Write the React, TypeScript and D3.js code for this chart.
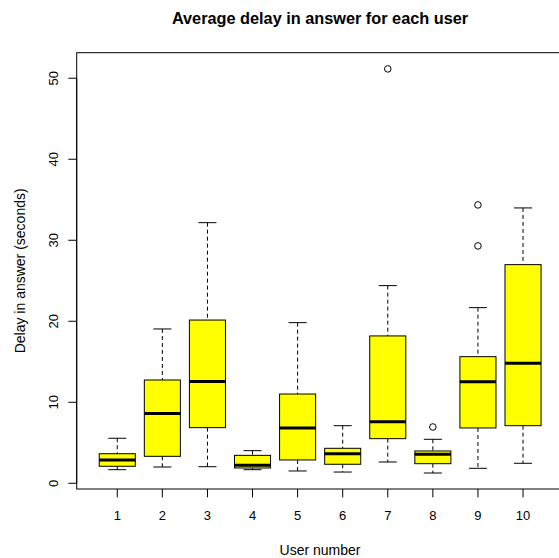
import * as d3 from 'd3';

// users on the x axis
const users = [1, 2, 3, 4, 5, 6, 7, 8, 9, 10];

// five-number summaries (seconds)
const whiskerLow = [1.68, 2.01, 2.05, 1.68, 1.52, 1.39, 2.63, 1.27, 1.85, 2.47];
const q1 = [2.1, 3.33, 6.87, 1.89, 2.88, 2.35, 5.51, 2.42, 6.83, 7.11];
const medians = [2.88, 8.6, 12.55, 2.22, 6.83, 3.65, 7.6, 3.58, 12.54, 14.81];
const q3 = [3.65, 12.75, 20.15, 3.45, 11.02, 4.32, 18.19, 3.99, 15.63, 26.99];
const whiskerHigh = [5.56, 19.05, 32.17, 4.03, 19.83, 7.11, 24.4, 5.43, 21.68, 33.99];

// outlying points: [user, value]
const outliers: [number, number][] = [
  [7, 51.15],
  [8, 6.95],
  [9, 34.36],
  [9, 29.3],
];

const yTicks = [0, 10, 20, 30, 40, 50];

export default function App() {
  const width = 559;
  const height = 558;

  // R style plot region: xlim 0.5..10.5 widened by 4 %
  const x = d3.scaleLinear().domain([0.1, 10.9]).range([76.7, 563.6]);
  const y = d3.scaleLinear().domain([-0.704, 53.15]).range([489, 52.7]);

  const boxW = (x(1) - x(0)) * 0.8;
  const capW = boxW / 2;
  const font = 'Liberation Sans, Arial, Helvetica, sans-serif';

  return (
    <svg
      width={width}
      height={height}
      style={{ position: 'absolute', left: 0, top: 0, background: '#fff' }}
      fontFamily={font}
    >
      <text x={320} y={24} textAnchor="middle" fontSize={16.3} fontWeight="bold">
        Average delay in answer for each user
      </text>

      {/* plot frame */}
      <rect
        x={x(0.1)}
        y={y(53.15)}
        width={x(10.9) - x(0.1)}
        height={y(-0.704) - y(53.15)}
        fill="none"
        stroke="#000"
      />

      {/* boxes */}
      {users.map((u, i) => {
        const cx = x(u);
        return (
          <g key={u}>
            <line x1={cx} x2={cx} y1={y(whiskerHigh[i])} y2={y(q3[i])} stroke="#000" strokeDasharray="4,3" />
            <line x1={cx} x2={cx} y1={y(q1[i])} y2={y(whiskerLow[i])} stroke="#000" strokeDasharray="4,3" />
            <line x1={cx - capW / 2} x2={cx + capW / 2} y1={y(whiskerHigh[i])} y2={y(whiskerHigh[i])} stroke="#000" />
            <line x1={cx - capW / 2} x2={cx + capW / 2} y1={y(whiskerLow[i])} y2={y(whiskerLow[i])} stroke="#000" />
            <rect
              x={cx - boxW / 2}
              y={y(q3[i])}
              width={boxW}
              height={y(q1[i]) - y(q3[i])}
              fill="#ffff00"
              stroke="#000"
            />
            <line x1={cx - boxW / 2} x2={cx + boxW / 2} y1={y(medians[i])} y2={y(medians[i])} stroke="#000" strokeWidth={3} />
          </g>
        );
      })}

      {outliers.map(([u, v], i) => (
        <circle key={i} cx={x(u)} cy={y(v)} r={3.3} fill="none" stroke="#000" />
      ))}

      {/* y axis */}
      <line x1={76.7} x2={76.7} y1={y(0)} y2={y(50)} stroke="#000" />
      {yTicks.map((t) => (
        <g key={t}>
          <line x1={68.3} x2={76.7} y1={y(t)} y2={y(t)} stroke="#000" />
          <text
            transform={`translate(58,${y(t)}) rotate(-90)`}
            textAnchor="middle"
            fontSize={13}
          >
            {t}
          </text>
        </g>
      ))}
      <text transform={`translate(25,${(52.7 + 489) / 2}) rotate(-90)`} textAnchor="middle" fontSize={14}>
        Delay in answer (seconds)
      </text>

      {/* x axis */}
      {users.map((u) => (
        <g key={u}>
          <line x1={x(u)} x2={x(u)} y1={489} y2={497.4} stroke="#000" />
          <text x={x(u)} y={520} textAnchor="middle" fontSize={13}>
            {u}
          </text>
        </g>
      ))}
      <text x={320} y={555} textAnchor="middle" fontSize={14}>
        User number
      </text>
    </svg>
  );
}
